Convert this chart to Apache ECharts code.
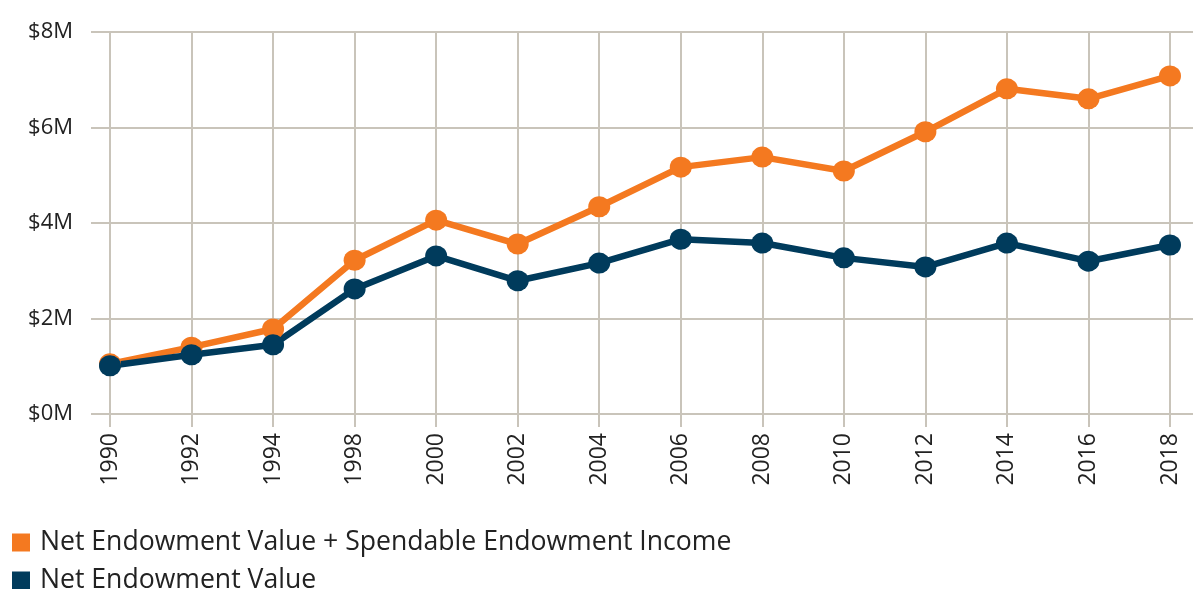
<!DOCTYPE html>
<html>
<head>
<meta charset="utf-8">
<script src="https://cdn.jsdelivr.net/npm/echarts@6/dist/echarts.min.js"></script>
<style>
    html, body { margin: 0; padding: 0; background: #fff; }
    #chart { width: 1193px; height: 589px; }
</style>
</head>
<body>
<div id="chart"></div>
<script>
var years = ['1990', '1992', '1994', '1998', '2000', '2002', '2004', '2006', '2008', '2010', '2012', '2014', '2016', '2018'];
// values in $M
var totalValues = [1.05, 1.40, 1.78, 3.22, 4.06, 3.56, 4.34, 5.17, 5.38, 5.09, 5.91, 6.81, 6.60, 7.08];
var netValues = [1.01, 1.24, 1.45, 2.62, 3.31, 2.79, 3.16, 3.66, 3.58, 3.27, 3.08, 3.58, 3.20, 3.54];
var seriesNames = ['Net Endowment Value + Spendable Endowment Income', 'Net Endowment Value'];

var gridColor = '#c9c4ba';
var chart = echarts.init(document.getElementById('chart'));

// one legend per row, stacked like the original
function legendRow(name, top) {
    return {
        left: 7,
        top: top,
        icon: 'rect',
        itemWidth: 18,
        itemHeight: 18,
        textStyle: { fontSize: 26.6, color: '#222', fontFamily: 'Open Sans', padding: [0, 0, 0, 5] },
        data: [name]
    };
}

var option = {
    animation: false,
    textStyle: { fontFamily: 'Open Sans' },
    grid: { left: 110, right: 23, top: 32, bottom: 175 },
    legend: [legendRow(seriesNames[0], 524), legendRow(seriesNames[1], 562)],
    xAxis: [{
        type: 'category',
        data: years,
        boundaryGap: false,
        axisLine: { show: false },
        axisTick: { show: true, length: 13, lineStyle: { color: gridColor, width: 2 } },
        axisLabel: { rotate: 90, margin: 19, fontSize: 23, color: '#222' },
        splitLine: { show: true, lineStyle: { color: gridColor, width: 2 } }
    }, {
        // only used for the tick stubs above the top grid line
        type: 'category',
        data: years,
        position: 'top',
        boundaryGap: false,
        axisLine: { show: false },
        axisTick: { show: true, length: 22, lineStyle: { color: gridColor, width: 2 } },
        axisLabel: { show: false },
        splitLine: { show: false }
    }],
    yAxis: [{
        type: 'value',
        min: 0,
        max: 8,
        interval: 2,
        axisLine: { show: false },
        axisTick: { show: true, length: 19, lineStyle: { color: gridColor, width: 2 } },
        axisLabel: {
            margin: 37, fontSize: 22, color: '#222',
            formatter: function (v) { return '$' + v + 'M'; }
        },
        splitLine: { show: true, lineStyle: { color: gridColor, width: 2 } }
    }, {
        type: 'value',
        min: 0,
        max: 8,
        interval: 2,
        position: 'right',
        axisLine: { show: false },
        axisTick: { show: true, length: 23, lineStyle: { color: gridColor, width: 2 } },
        axisLabel: { show: false },
        splitLine: { show: false }
    }],
    series: [{
        name: seriesNames[0],
        type: 'line',
        data: totalValues,
        symbol: 'circle',
        symbolSize: [22, 21],
        lineStyle: { width: 6.5, color: '#f47920' },
        itemStyle: { color: '#f47920' }
    }, {
        name: seriesNames[1],
        type: 'line',
        data: netValues,
        symbol: 'circle',
        symbolSize: [22, 21],
        lineStyle: { width: 6.5, color: '#003b5c' },
        itemStyle: { color: '#003b5c' }
    }]
};
chart.setOption(option);
</script>
</body>
</html>
